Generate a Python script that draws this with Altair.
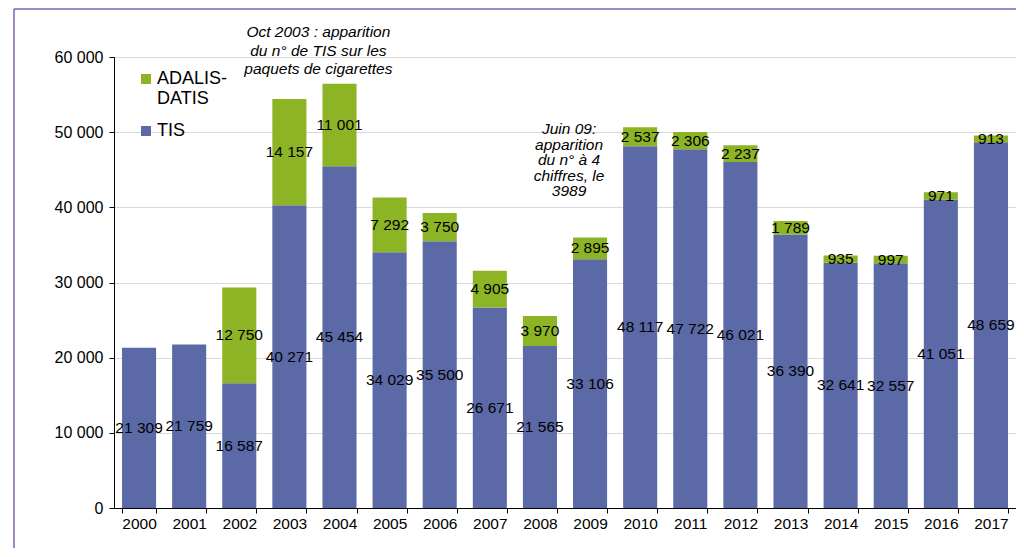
import altair as alt
import pandas as pd

years = [str(y) for y in range(2000, 2018)]
tis = [21309, 21759, 16587, 40271, 45454, 34029, 35500, 26671, 21565, 33106,
       48117, 47722, 46021, 36390, 32641, 32557, 41051, 48659]
adalis = [0, 0, 12750, 14157, 11001, 7292, 3750, 4905, 3970, 2895,
          2537, 2306, 2237, 1789, 935, 997, 971, 913]
series_names = ["ADALIS-DATIS", "TIS"]
series_colors = ["#8DB424", "#5B69A7"]

ann1_year = ["2003"]
ann1_text = ["Oct 2003 : apparition\ndu n° de TIS sur les\npaquets de cigarettes"]
ann2_year = ["2009"]
ann2_text = ["Juin 09:\napparition\ndu n° à 4\nchiffres, le\n3989"]

rows = []
for y, t, a in zip(years, tis, adalis):
    rows.append(dict(year=y, series="TIS", value=t, start=0, end=t))
    rows.append(dict(year=y, series="ADALIS-DATIS", value=a, start=t, end=t + a))
df = pd.DataFrame(rows)
df["mid"] = (df["start"] + df["end"]) / 2
df["label"] = df["value"].map(lambda v: f"{v:,}".replace(",", " "))
lab = df[df["value"] > 0]

FONT = "Liberation Sans"

x = alt.X("year:N", sort=years, title=None,
          scale=alt.Scale(paddingInner=0.32, paddingOuter=0.16),
          axis=alt.Axis(labelAngle=0, tickBand="extent", domainColor="black",
                        tickColor="black", tickSize=5, labelFontSize=15.5,
                        labelColor="black", labelPadding=3, grid=False,
                        labelFont=FONT))

bars = alt.Chart(df).mark_bar().encode(
    x=x,
    y=alt.Y("start:Q", scale=alt.Scale(domain=[0, 60000]), title=None,
            axis=alt.Axis(values=list(range(0, 60001, 10000)),
                          labelExpr="replace(format(datum.value, ','), ',', ' ')",
                          domainColor="black", tickColor="black", tickSize=5,
                          labelFontSize=16, labelColor="black", labelPadding=6,
                          gridColor="#D9D9D9", labelFont=FONT)),
    y2="end:Q",
    color=alt.Color("series:N",
                    scale=alt.Scale(domain=series_names, range=series_colors),
                    legend=alt.Legend(title=None, orient="none", legendX=23, legendY=13,
                                      symbolType="square", symbolSize=100,
                                      symbolStrokeWidth=0, labelFontSize=18,
                                      labelFont=FONT, labelColor="black",
                                      labelOffset=2, rowPadding=14,
                                      labelExpr="datum.label == 'ADALIS-DATIS' ? ['ADALIS-', 'DATIS'] : datum.label")),
)

labels = alt.Chart(lab).mark_text(fontSize=15.5, font=FONT, color="black").encode(
    x=alt.X("year:N", sort=years),
    y=alt.Y("mid:Q"),
    text="label:N",
)

ann1 = alt.Chart(pd.DataFrame({"year": ann1_year, "text": ann1_text})).mark_text(
    fontSize=15.5, font=FONT, fontStyle="italic", color="black", lineBreak="\n",
    lineHeight=18.5, baseline="top", align="center", dx=29
).encode(x=alt.X("year:N", sort=years), y=alt.value(-32), text="text:N")

ann2 = alt.Chart(pd.DataFrame({"year": ann2_year, "text": ann2_text})).mark_text(
    fontSize=15.5, font=FONT, fontStyle="italic", color="black", lineBreak="\n",
    lineHeight=15.5, baseline="top", align="center", dx=-21
).encode(x=alt.X("year:N", sort=years), y=alt.value(65), text="text:N")

frame_top = alt.Chart(pd.DataFrame({"a": [0]})).mark_rule(color="#7F5FB0", strokeWidth=1.5).encode(
    x=alt.value(-100), x2=alt.value(910), y=alt.value(-48))
frame_left = alt.Chart(pd.DataFrame({"a": [0]})).mark_rule(color="#7F5FB0", strokeWidth=1.5).encode(
    x=alt.value(-100), y=alt.value(-48), y2=alt.value(500))

chart = alt.layer(bars, labels, ann1, ann2, frame_top, frame_left).properties(
    width=902, height=451,
    autosize=alt.AutoSizeParams(type="none"),
    padding={"left": 106, "top": 49, "right": 0, "bottom": 40},
).configure_view(stroke="#8C8C8C", strokeWidth=1.5).configure(background="white")

chart.save("out.html", embed_options={"renderer": "svg", "actions": False})
